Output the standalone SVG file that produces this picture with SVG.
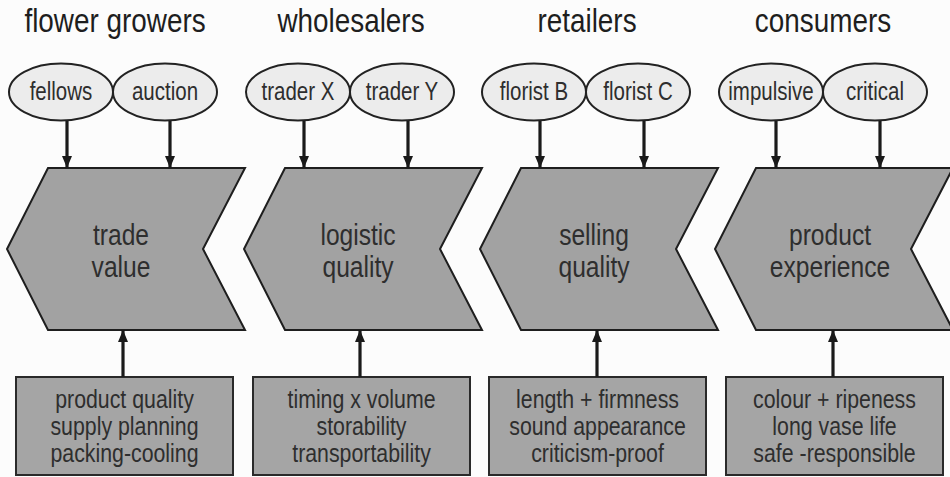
<svg xmlns="http://www.w3.org/2000/svg" width="950" height="477" viewBox="0 0 950 477">
  <style>
    text { font-family: "Liberation Sans", Arial, sans-serif; fill: #2e2e2e; text-anchor: middle; }
    .hdr { font-size: 34px; fill: #1e1e1e; }
    .ell-t { font-size: 25px; }
    .chev-t { font-size: 30px; }
    .box-t { font-size: 26px; }
    .ell { fill: #ececec; stroke: #222; stroke-width: 2; }
    .chev { fill: #a2a2a2; stroke: #1e1e1e; stroke-width: 2; stroke-linejoin: miter; }
    .box { fill: #a5a5a5; stroke: #2a2a2a; stroke-width: 2; }
    .conn { stroke: #1a1a1a; stroke-width: 3.2; fill: none; marker-end: url(#head); }
  </style>
  <defs>
    <marker id="head" markerUnits="userSpaceOnUse" markerWidth="14" markerHeight="14" viewBox="0 0 14 14" refX="12" refY="7" orient="auto">
      <path d="M0,2 L12,7 L0,12 Z" fill="#1a1a1a"/>
    </marker>
    <path id="chevron" class="chev" d="M0,0 H197 L155,81 L197,162 H0 L-41,81 Z"/>
  </defs>
  <rect width="950" height="477" fill="#fcfcfc"/>

  <!-- labels use a horizontally condensed sans (scale 0.82 on x) -->

  <!-- stage 1: flower growers -->
  <g id="growers">
    <text class="hdr" transform="matrix(0.82 0 0 1 115 32)">flower growers</text>
    <g id="fellows"><ellipse class="ell" cx="61" cy="92" rx="52" ry="28.5"/><text class="ell-t" transform="matrix(0.82 0 0 1 61 100)">fellows</text></g>
    <g id="auction"><ellipse class="ell" cx="165" cy="92" rx="52" ry="28.5"/><text class="ell-t" transform="matrix(0.82 0 0 1 165 100)">auction</text></g>
    <g id="trade-value"><use href="#chevron" x="48" y="168"/>
      <text class="chev-t" transform="matrix(0.82 0 0 1 121 245)">trade</text>
      <text class="chev-t" transform="matrix(0.82 0 0 1 121 277)">value</text></g>
    <g id="growers-criteria"><rect class="box" x="16" y="377" width="217" height="98"/>
      <text class="box-t" transform="matrix(0.82 0 0 1 124.5 408)">product quality</text>
      <text class="box-t" transform="matrix(0.82 0 0 1 124.5 435)">supply planning</text>
      <text class="box-t" transform="matrix(0.82 0 0 1 124.5 462)">packing-cooling</text></g>
  </g>

  <!-- stage 2: wholesalers -->
  <g id="wholesalers">
    <text class="hdr" transform="matrix(0.82 0 0 1 351 32)">wholesalers</text>
    <g id="traderX"><ellipse class="ell" cx="298" cy="92" rx="52" ry="28.5"/><text class="ell-t" transform="matrix(0.82 0 0 1 298 100)">trader X</text></g>
    <g id="traderY"><ellipse class="ell" cx="402" cy="92" rx="52" ry="28.5"/><text class="ell-t" transform="matrix(0.82 0 0 1 402 100)">trader Y</text></g>
    <g id="logistic-quality"><use href="#chevron" x="285" y="168"/>
      <text class="chev-t" transform="matrix(0.82 0 0 1 358 245)">logistic</text>
      <text class="chev-t" transform="matrix(0.82 0 0 1 358 277)">quality</text></g>
    <g id="wholesalers-criteria"><rect class="box" x="253" y="377" width="217" height="98"/>
      <text class="box-t" transform="matrix(0.82 0 0 1 361.5 408)">timing x volume</text>
      <text class="box-t" transform="matrix(0.82 0 0 1 361.5 435)">storability</text>
      <text class="box-t" transform="matrix(0.82 0 0 1 361.5 462)">transportability</text></g>
  </g>

  <!-- stage 3: retailers -->
  <g id="retailers">
    <text class="hdr" transform="matrix(0.82 0 0 1 587 32)">retailers</text>
    <g id="floristB"><ellipse class="ell" cx="534" cy="92" rx="52" ry="28.5"/><text class="ell-t" transform="matrix(0.82 0 0 1 534 100)">florist B</text></g>
    <g id="floristC"><ellipse class="ell" cx="638" cy="92" rx="52" ry="28.5"/><text class="ell-t" transform="matrix(0.82 0 0 1 638 100)">florist C</text></g>
    <g id="selling-quality"><use href="#chevron" x="521" y="168"/>
      <text class="chev-t" transform="matrix(0.82 0 0 1 594 245)">selling</text>
      <text class="chev-t" transform="matrix(0.82 0 0 1 594 277)">quality</text></g>
    <g id="retailers-criteria"><rect class="box" x="489" y="377" width="217" height="98"/>
      <text class="box-t" transform="matrix(0.82 0 0 1 597.5 408)">length + firmness</text>
      <text class="box-t" transform="matrix(0.82 0 0 1 597.5 435)">sound appearance</text>
      <text class="box-t" transform="matrix(0.82 0 0 1 597.5 462)">criticism-proof</text></g>
  </g>

  <!-- stage 4: consumers -->
  <g id="consumers">
    <text class="hdr" transform="matrix(0.82 0 0 1 823 32)">consumers</text>
    <g id="impulsive"><ellipse class="ell" cx="771" cy="92" rx="52" ry="28.5"/><text class="ell-t" transform="matrix(0.82 0 0 1 771 100)">impulsive</text></g>
    <g id="critical"><ellipse class="ell" cx="875" cy="92" rx="52" ry="28.5"/><text class="ell-t" transform="matrix(0.82 0 0 1 875 100)">critical</text></g>
    <g id="product-experience"><use href="#chevron" x="756" y="168"/>
      <text class="chev-t" transform="matrix(0.82 0 0 1 830 245)">product</text>
      <text class="chev-t" transform="matrix(0.82 0 0 1 830 277)">experience</text></g>
    <g id="consumers-criteria"><rect class="box" x="726" y="377" width="217" height="98"/>
      <text class="box-t" transform="matrix(0.82 0 0 1 834.5 408)">colour + ripeness</text>
      <text class="box-t" transform="matrix(0.82 0 0 1 834.5 435)">long vase life</text>
      <text class="box-t" transform="matrix(0.82 0 0 1 834.5 462)">safe -responsible</text></g>
  </g>

  <!-- connectors -->
  <g id="connectors">
    <line class="conn" x1="67" y1="121" x2="67" y2="168"/>
    <line class="conn" x1="170" y1="121" x2="170" y2="168"/>
    <line class="conn" x1="304" y1="121" x2="304" y2="168"/>
    <line class="conn" x1="408" y1="121" x2="408" y2="168"/>
    <line class="conn" x1="540" y1="121" x2="540" y2="168"/>
    <line class="conn" x1="644" y1="121" x2="644" y2="168"/>
    <line class="conn" x1="776" y1="121" x2="776" y2="168"/>
    <line class="conn" x1="880" y1="121" x2="880" y2="168"/>
    <line class="conn" x1="123" y1="377" x2="123" y2="330"/>
    <line class="conn" x1="360" y1="377" x2="360" y2="330"/>
    <line class="conn" x1="597" y1="377" x2="597" y2="330"/>
    <line class="conn" x1="833" y1="377" x2="833" y2="330"/>
  </g>
</svg>
